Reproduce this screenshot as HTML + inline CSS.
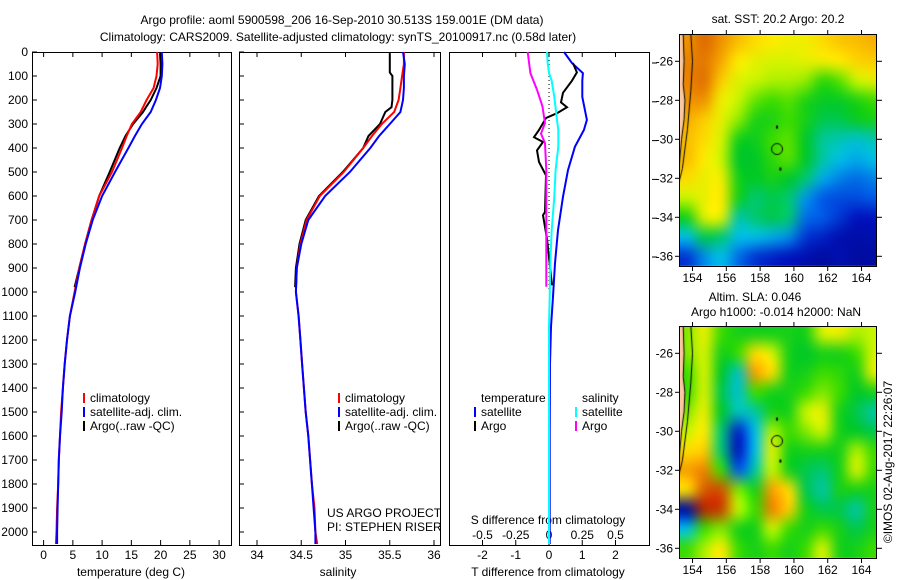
<!DOCTYPE html>
<html><head><meta charset="utf-8"><style>
html,body{margin:0;padding:0;background:#fff;}
#wrap{position:relative;width:900px;height:580px;overflow:hidden;font-family:"Liberation Sans",sans-serif;}
svg{position:absolute;left:0;top:0;}
canvas{position:absolute;}
text{font-family:"Liberation Sans",sans-serif;font-size:12px;fill:#000;}
</style></head><body>
<div id="wrap">
<svg id="main" width="900" height="580"></svg>
<canvas id="sst" width="198" height="233" style="left:679px;top:34px"></canvas>
<canvas id="sla" width="198" height="233" style="left:679px;top:326px"></canvas>
<svg id="over" width="900" height="580"></svg>
</div>
<script>
// ---- data ----
const depths = [0,50,100,150,200,250,300,350,400,500,600,700,800,900,1000,1100,1200,1300,1400,1500,1600,1700,1800,1900,2000,2050];
const tempClim = [19.4,19.5,19.3,18.8,17.6,16.6,15.1,14.2,13.4,11.7,9.5,8.2,7.1,6.1,5.3,4.5,4.0,3.6,3.3,3.0,2.8,2.6,2.5,2.3,2.2,2.1];
const tempSat = [20.2,20.3,20.2,19.9,19.2,18.3,16.8,15.6,14.5,12.2,10.0,8.4,7.2,6.2,5.4,4.5,4.0,3.6,3.3,3.1,2.8,2.6,2.5,2.4,2.3,2.3];
const salClim = [35.66,35.66,35.64,35.62,35.6,35.55,35.41,35.3,35.2,34.98,34.71,34.56,34.49,34.45,34.44,34.47,34.49,34.51,34.53,34.55,34.58,34.60,34.62,34.65,34.66,34.68];
const salSat = [35.65,35.67,35.66,35.66,35.65,35.62,35.5,35.38,35.28,35.05,34.77,34.58,34.5,34.45,34.44,34.47,34.49,34.51,34.53,34.55,34.58,34.6,34.62,34.64,34.66,34.66];
const argoDepths = [5,50,85,100,150,200,230,250,300,350,400,500,600,700,800,900,980];
const tempArgo = [19.9,20.0,20.0,20.0,19.3,18.3,17.5,17.0,15.3,14.0,13.0,11.3,9.5,8.2,7.1,6.1,5.3];
const salArgo = [35.5,35.5,35.5,35.53,35.53,35.53,35.52,35.45,35.39,35.26,35.2,34.97,34.7,34.55,34.48,34.44,34.43];
const diffDepths = [0,46,88,120,187,283,325,395,492,603,742,880,1020,1145,1300,1600,2050];
const tDiffSat = [0.45,0.69,1.02,1.0,1.0,1.14,1.05,0.78,0.57,0.42,0.27,0.18,0.12,0.06,0.03,0.02,0.02];
const sDiffSat = [-0.015,-0.01,0.0,0.02,0.04,0.06,0.07,0.07,0.05,0.04,0.02,0.01,0.005,0,0,0,0];
const tArgoDiffDepths = [46,85,120,170,210,230,255,275,325,355,375,410,458,514,667,680,778,972];
const tDiffArgo = [0.72,0.84,0.69,0.42,0.36,0.54,0.24,-0.09,-0.3,-0.45,-0.18,-0.36,-0.3,-0.09,-0.12,-0.18,-0.06,0.09];
const sArgoDiffDepths = [0,88,157,226,296,340,380,492,742,978];
const sDiffArgo = [-0.16,-0.14,-0.09,-0.05,-0.03,-0.06,-0.03,-0.02,-0.02,-0.02];
const depthTicks = [0,100,200,300,400,500,600,700,800,900,1000,1100,1200,1300,1400,1500,1600,1700,1800,1900,2000];
const tempTicks = [0,5,10,15,20,25,30];
const salTicks = [34,34.5,35,35.5,36];
const salTickLabels = ["34","34.5","35","35.5","36"];
const tDiffTicks = [-2,-1,0,1,2];
const sDiffTicks = [-0.5,-0.25,0,0.25,0.5];
const sDiffLabels = ["-0.5","-0.25","0","0.25","0.5"];
const lonTicks = [154,156,158,160,162,164];
const latTicks = [-26,-28,-30,-32,-34,-36];
// SST grid (colour index 0..1), rows lat -25..-36, cols lon 153.5..164.5
const sstGrid = [
[0.8,0.86,0.8,0.74,0.7,0.68,0.66,0.66,0.7,0.73,0.74,0.76],
[0.82,0.84,0.77,0.68,0.64,0.62,0.62,0.64,0.66,0.68,0.71,0.72],
[0.82,0.85,0.72,0.63,0.6,0.58,0.58,0.56,0.48,0.52,0.6,0.64],
[0.8,0.8,0.66,0.6,0.53,0.5,0.52,0.46,0.43,0.43,0.46,0.5],
[0.76,0.72,0.64,0.56,0.46,0.46,0.5,0.45,0.4,0.4,0.43,0.45],
[0.74,0.7,0.62,0.45,0.44,0.5,0.52,0.42,0.36,0.34,0.32,0.34],
[0.74,0.68,0.6,0.42,0.42,0.48,0.52,0.42,0.35,0.3,0.28,0.3],
[0.7,0.65,0.66,0.45,0.42,0.45,0.42,0.38,0.28,0.24,0.22,0.24],
[0.6,0.65,0.68,0.45,0.38,0.4,0.38,0.26,0.2,0.18,0.18,0.2],
[0.45,0.63,0.64,0.35,0.38,0.4,0.38,0.22,0.2,0.15,0.1,0.1],
[0.3,0.4,0.38,0.3,0.3,0.28,0.25,0.15,0.12,0.08,0.07,0.08],
[0.15,0.25,0.3,0.22,0.15,0.12,0.1,0.08,0.06,0.08,0.06,0.06]];
const slaGrid = [
[0.55,0.65,0.5,0.45,0.45,0.45,0.45,0.45,0.62,0.65,0.58,0.6],
[0.55,0.62,0.45,0.5,0.7,0.62,0.45,0.42,0.45,0.45,0.5,0.62],
[0.5,0.62,0.42,0.33,0.78,0.7,0.45,0.45,0.5,0.48,0.45,0.64],
[0.5,0.62,0.4,0.32,0.5,0.45,0.45,0.5,0.55,0.5,0.42,0.45],
[0.55,0.65,0.42,0.33,0.35,0.45,0.45,0.6,0.64,0.45,0.4,0.35],
[0.6,0.68,0.38,0.12,0.3,0.58,0.5,0.55,0.6,0.45,0.42,0.4],
[0.7,0.72,0.38,0.1,0.3,0.64,0.45,0.45,0.45,0.45,0.58,0.5],
[0.78,0.82,0.5,0.2,0.35,0.6,0.45,0.4,0.38,0.45,0.62,0.5],
[0.7,0.88,0.9,0.55,0.45,0.78,0.7,0.4,0.35,0.45,0.45,0.45],
[0.05,0.95,0.92,0.6,0.5,0.82,0.72,0.45,0.4,0.4,0.35,0.45],
[0.3,0.5,0.55,0.45,0.45,0.6,0.5,0.45,0.5,0.45,0.4,0.45],
[0.5,0.58,0.68,0.5,0.45,0.5,0.45,0.5,0.62,0.45,0.45,0.5]];

const NS = "http://www.w3.org/2000/svg";
function mk(parent, tag, attrs, txt){
  const e = document.createElementNS(NS, tag);
  for (const k in attrs) e.setAttribute(k, attrs[k]);
  if (txt !== undefined) e.textContent = txt;
  parent.appendChild(e); return e;
}
const svg = document.getElementById('main');
const over = document.getElementById('over');

const Y0 = 52, YPX = 0.24;
const yD = d => Y0 + d*YPX;
const xT = t => 43.6 + t*5.85;
const xS = s => 257 + (s-34)*88.5;
const xTd = t => 549 + t*33.25;
const xSd = s => 549 + s*133;

function line(parent,x1,y1,x2,y2,name){
  const l = mk(parent,'line',{x1,y1,x2,y2,stroke:'#000','stroke-width':1});
  
  
  return l;
}
function txt(parent,x,y,s,anchor,name,extra){
  const t = mk(parent,'text',Object.assign({x,y,'text-anchor':anchor||'start'},extra||{}),s);
  
  
  return t;
}
function series(xs, ds, xf, color, name){
  const pts = xs.map((v,i)=>xf(v).toFixed(1)+','+yD(ds[i]).toFixed(1)).join(' ');
  const p = mk(svg,'polyline',{points:pts,fill:'none',stroke:color,'stroke-width':2});
  
  
}

txt(svg,342,24,"Argo profile: aoml 5900598_206 16-Sep-2010 30.513S 159.001E (DM data)",'middle','title-line-1',{'font-size':13});
txt(svg,338,41,"Climatology: CARS2009. Satellite-adjusted climatology: synTS_20100917.nc (0.58d later)",'middle','title-line-2',{'font-size':13});

const panels = [[32,231],[239,440],[449,649]];
const YB = 545;
panels.forEach((p,i)=>{
  const r = mk(svg,'rect',{x:p[0]+0.5,y:Y0+0.5,width:p[1]-p[0],height:YB-Y0,fill:'none',stroke:'#000','stroke-width':1});
  
  
});
depthTicks.forEach(d=>{
  line(svg,32,yD(d),37,yD(d),'depth-tick');
  line(svg,239,yD(d),244,yD(d),'depth-tick-2');
  txt(svg,28,yD(d)+4,String(d),'end','depth-tick-label');
});
tempTicks.forEach(t=>{
  line(svg,xT(t),YB,xT(t),YB-5,'temp-tick');
  line(svg,xT(t),Y0,xT(t),Y0+5,'temp-tick-top');
  txt(svg,xT(t),559,String(t),'middle','temp-tick-label');
});
txt(svg,131,576,"temperature (deg C)",'middle','x-axis-title-temperature');
salTicks.forEach((s,i)=>{
  line(svg,xS(s),YB,xS(s),YB-5,'sal-tick');
  line(svg,xS(s),Y0,xS(s),Y0+5,'sal-tick-top');
  txt(svg,xS(s),559,salTickLabels[i],'middle','sal-tick-label');
});
txt(svg,338,576,"salinity",'middle','x-axis-title-salinity');
tDiffTicks.forEach(t=>{
  line(svg,xTd(t),YB,xTd(t),YB-5,'tdiff-tick');
  txt(svg,xTd(t),559,String(t),'middle','tdiff-tick-label');
});
sDiffTicks.forEach((s,i)=>{
  line(svg,xSd(s),Y0,xSd(s),Y0+5,'sdiff-tick-top');
  txt(svg,xSd(s),539,sDiffLabels[i],'middle','sdiff-tick-label');
});
txt(svg,548,524,"S difference from climatology",'middle','sdiff-axis-title');
txt(svg,548,576,"T difference from climatology",'middle','tdiff-axis-title');
latTicks.forEach(l=>{ line(svg,652,63+(-26-l)*19.4,657,63+(-26-l)*19.4,'right-tick'); });

series(tempArgo,argoDepths,xT,'#000','temp-argo-line');
series(tempClim,depths,xT,'#ff0000','temp-climatology-line');
series(tempSat,depths,xT,'#0000ff','temp-satellite-line');
series(salArgo,argoDepths,xS,'#000','sal-argo-line');
series(salClim,depths,xS,'#ff0000','sal-climatology-line');
series(salSat,depths,xS,'#0000ff','sal-satellite-line');
const zl = mk(svg,'line',{x1:549,y1:yD(0),x2:549,y2:yD(1000),stroke:'#000','stroke-dasharray':'1,3','stroke-width':1});


series(tDiffSat,diffDepths,xTd,'#0000ff','tdiff-satellite-line');
series(tDiffArgo,tArgoDiffDepths,xTd,'#000','tdiff-argo-line');
series(sDiffSat,diffDepths,xSd,'#00ffff','sdiff-satellite-line');
series(sDiffArgo,sArgoDiffDepths,xSd,'#ff00ff','sdiff-argo-line');

function legEntry(x,y,color,label,name){
  const g = mk(svg,'g',{});
  
  
  const r = mk(g,'rect',{x:x,y:y-7,width:2,height:10,fill:color});
  
  
  const t = mk(g,'text',{x:x+7,y:y+2},label);
  
  
}
[[83,'#ff0000','climatology'],[83,'#0000ff','satellite-adj. clim.'],[83,'#000','Argo(..raw -QC)']].forEach((e,i)=>legEntry(e[0],400+i*14,e[1],e[2],'legend-entry-temp-'+i));
[[338,'#ff0000','climatology'],[338,'#0000ff','satellite-adj. clim.'],[338,'#000','Argo(..raw -QC)']].forEach((e,i)=>legEntry(e[0],400+i*14,e[1],e[2],'legend-entry-sal-'+i));
txt(svg,481,402,"temperature",'start','legend-header-temperature');
txt(svg,582,402,"salinity",'start','legend-header-salinity');
legEntry(474,414,'#0000ff','satellite','legend-entry-tdiff-satellite');
legEntry(474,428,'#000','Argo','legend-entry-tdiff-argo');
legEntry(575,414,'#00ffff','satellite','legend-entry-sdiff-satellite');
legEntry(575,428,'#ff00ff','Argo','legend-entry-sdiff-argo');
txt(svg,327,517,"US ARGO PROJECT",'start','project-label');
txt(svg,327,531,"PI: STEPHEN RISER",'start','pi-label');

// ---- maps ----
const stops = [[0,[0,0,120]],[0.1,[0,20,190]],[0.2,[0,90,230]],[0.3,[0,190,230]],[0.36,[0,200,150]],[0.42,[0,200,40]],[0.5,[60,220,0]],[0.6,[200,245,0]],[0.68,[255,235,0]],[0.78,[245,160,0]],[0.9,[210,80,0]],[1,[150,0,0]]];
function cmap(v){
  v=Math.max(0,Math.min(1,v));
  for(let i=1;i<stops.length;i++){
    if(v<=stops[i][0]){
      const a=stops[i-1],b=stops[i],f=(v-a[0])/(b[0]-a[0]);
      return a[1].map((c,k)=>Math.round(c+(b[1][k]-c)*f));
    }
  }
  return stops[stops.length-1][1];
}
const LON0=153.2, LONPX=16.9, LAT0=-24.6, LATPX=19.5, MW=198, MH=233;
const mx = lon => (lon-LON0)*LONPX;
const my = lat => (LAT0-lat)*LATPX;
function drawMap(id, grid){
  const c = document.getElementById(id), ctx = c.getContext('2d');
  const rows=grid.length, cols=grid[0].length;
  const s = document.createElement('canvas'); s.width=cols; s.height=rows;
  const sc = s.getContext('2d'); const im = sc.createImageData(cols,rows);
  grid.forEach((row,r)=>row.forEach((v,k)=>{const col=cmap(v);const o=(r*cols+k)*4;im.data[o]=col[0];im.data[o+1]=col[1];im.data[o+2]=col[2];im.data[o+3]=255;}));
  sc.putImageData(im,0,0);
  ctx.imageSmoothingEnabled = true;
  ctx.imageSmoothingQuality = 'high';
  ctx.drawImage(s, mx(153.2), my(-24.5), cols*LONPX, rows*LATPX);
  ctx.fillStyle='rgb(250,200,160)';
  ctx.beginPath();
  const coast=[[153.2,-24.6],[153.45,-24.6],[153.5,-26],[153.45,-27.2],[153.55,-28],[153.5,-29],[153.35,-30],[153.25,-31],[153.2,-31.6]];
  ctx.moveTo(0,0); coast.forEach(p=>ctx.lineTo(mx(p[0]),my(p[1]))); ctx.closePath(); ctx.fill();
  ctx.strokeStyle='#000'; ctx.lineWidth=1;
  ctx.beginPath(); coast.forEach((p,i)=>i?ctx.lineTo(mx(p[0]),my(p[1])):ctx.moveTo(mx(p[0]),my(p[1]))); ctx.stroke();
  const iso=[[153.9,-24.6],[154.0,-26],[153.9,-27.5],[153.8,-28.5],[153.7,-29.5],[153.55,-30.5],[153.4,-31.5],[153.2,-32.2]];
  ctx.beginPath(); iso.forEach((p,i)=>i?ctx.lineTo(mx(p[0]),my(p[1])):ctx.moveTo(mx(p[0]),my(p[1]))); ctx.stroke();
  ctx.beginPath(); ctx.arc(mx(159),my(-30.5),5.5,0,Math.PI*2); ctx.stroke();
  ctx.fillStyle='#000';
  ctx.fillRect(mx(159)-1,my(-29.4)-2,2,3);
  ctx.fillRect(mx(159.2)-1,my(-31.5)-1,2,3);
}
drawMap('sst',sstGrid);
drawMap('sla',slaGrid);

[[34,'sst'],[326,'sla']].forEach(m=>{
  const top=m[0];
  const r = mk(over,'rect',{x:679.5,y:top+0.5,width:MW-1,height:MH-1,fill:'none',stroke:'#000'});
  
  
  lonTicks.forEach(l=>{
    const x=679+mx(l);
    line(over,x,top,x,top-4,m[1]+'-lon-tick-top');
    line(over,x,top+MH,x,top+MH+4,m[1]+'-lon-tick');
    txt(over,x,top+MH+15,String(l),'middle',m[1]+'-lon-label');
  });
  latTicks.forEach(l=>{
    const y=top+my(l);
    line(over,679,y,675,y,m[1]+'-lat-tick');
    line(over,877,y,882,y,m[1]+'-lat-tick-right');
    txt(over,673,y+4,String(l),'end',m[1]+'-lat-label');
  });
});
txt(over,778,23,"sat. SST: 20.2 Argo: 20.2",'middle','sst-map-title');
txt(over,755,301,"Altim. SLA: 0.046",'middle','sla-map-title-1');
txt(over,776,316,"Argo h1000: -0.014 h2000: NaN",'middle','sla-map-title-2');
txt(over,0,0,"\u00a9IMOS 02-Aug-2017 22:26:07",'middle','timestamp-label',{transform:'translate(892,462) rotate(-90)'});
</script>
</body></html>
